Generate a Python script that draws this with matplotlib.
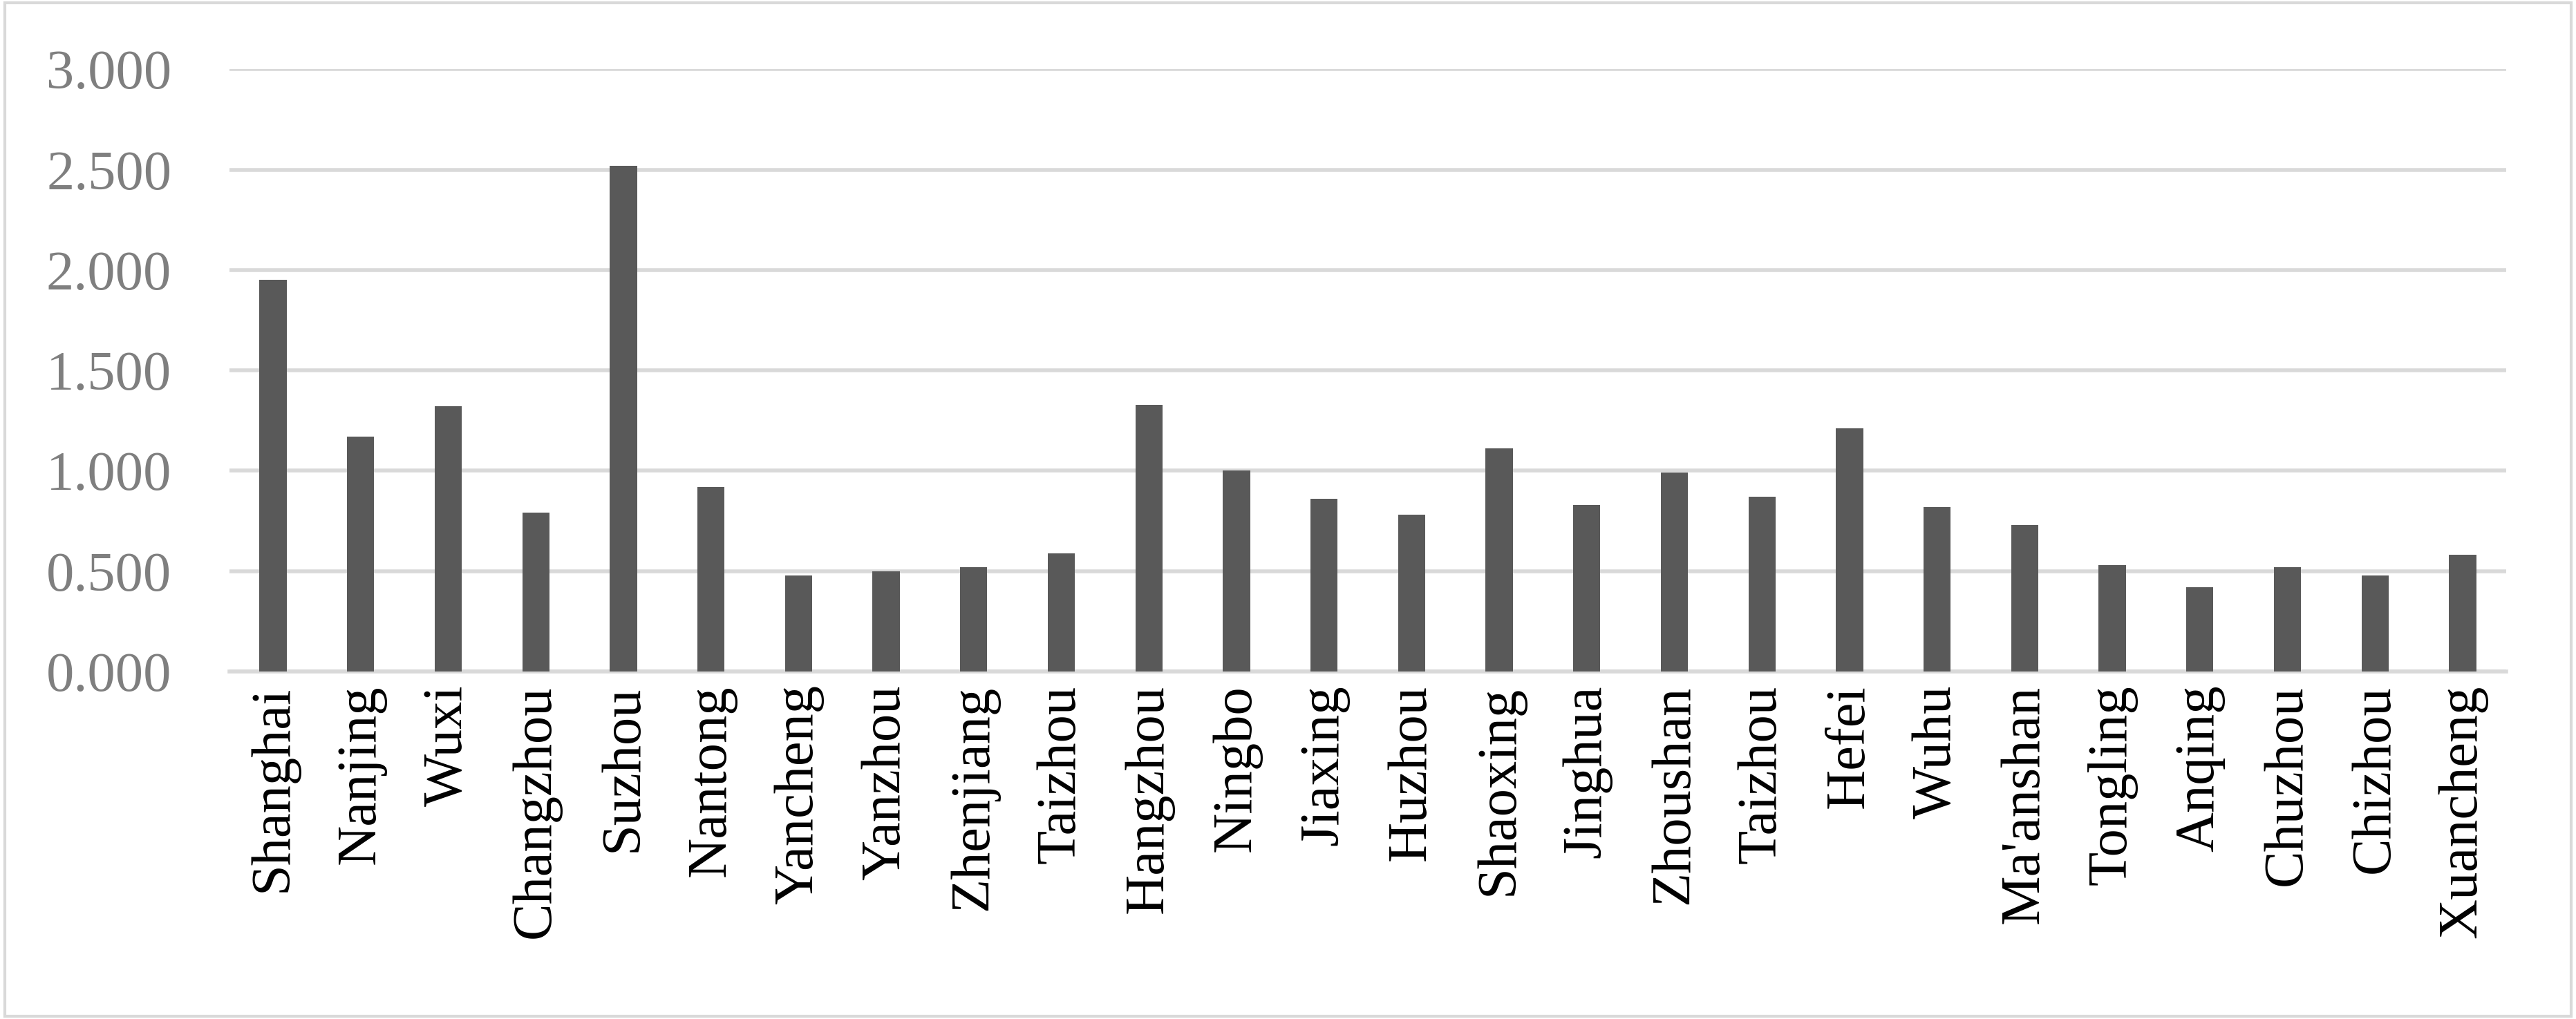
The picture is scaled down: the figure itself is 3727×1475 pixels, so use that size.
import matplotlib
matplotlib.use("Agg")
import matplotlib.pyplot as plt
from matplotlib.patches import Rectangle

cities = ["Shanghai","Nanjing","Wuxi","Changzhou","Suzhou","Nantong","Yancheng","Yanzhou",
          "Zhenjiang","Taizhou","Hangzhou","Ningbo","Jiaxing","Huzhou","Shaoxing","Jinghua",
          "Zhoushan","Taizhou","Hefei","Wuhu","Ma'anshan","Tongling","Anqing","Chuzhou",
          "Chizhou","Xuancheng"]
values = [1.95,1.17,1.32,0.79,2.52,0.92,0.48,0.50,0.52,0.59,1.33,1.00,0.86,0.78,1.11,0.83,
          0.99,0.87,1.21,0.82,0.73,0.53,0.42,0.52,0.48,0.58]
yticks = [0.0,0.5,1.0,1.5,2.0,2.5,3.0]

plt.rcParams['font.family'] = ['Liberation Serif','DejaVu Serif']
fig = plt.figure(figsize=(37.27,14.75), dpi=100)
ax = fig.add_axes([0.089,0.341,0.884,0.591])
x = range(len(cities))
ax.bar(x, values, width=0.31, color="#595959", zorder=3)
ax.set_xlim(-0.5, len(cities)-0.5)
ax.set_ylim(0,3.0)
ax.set_yticks(yticks)
ax.set_yticklabels([f"{v:.3f}" for v in yticks], fontsize=58, color="#7f7f7f")
ax.set_xticks(list(x))
ax.set_xticklabels(cities, rotation=90, fontsize=58, color="black")
ax.tick_params(axis='y', length=0, pad=60)
ax.tick_params(axis='x', length=0, pad=14)
ax.grid(axis='y', color="#d9d9d9", linewidth=4, zorder=0)
for s in ["top","right","left"]:
    ax.spines[s].set_visible(False)
ax.spines["bottom"].set_color("#d9d9d9")
ax.spines["bottom"].set_linewidth(4)
fig.patches.append(Rectangle((0.002,0.003),0.996,0.994,transform=fig.transFigure,
                             fill=False,edgecolor="#d9d9d9",linewidth=3))
fig.savefig("out.png", dpi=100)
